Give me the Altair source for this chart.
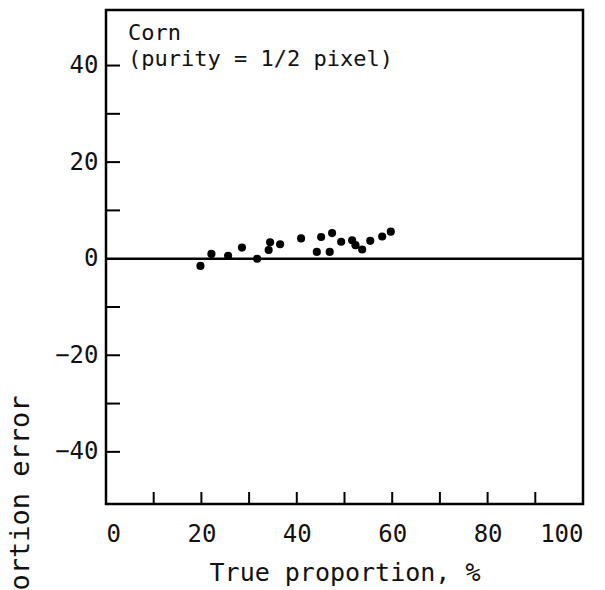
import altair as alt
import pandas as pd

# ---- data ----
true_prop = [19.8, 22.1, 25.6, 28.5, 31.7, 34.1, 34.4, 36.5, 40.9, 44.2,
             45.1, 46.9, 47.4, 49.3, 51.6, 52.3, 53.7, 55.4, 57.9, 59.7]
prop_error = [-1.5, 1.0, 0.6, 2.3, 0.0, 1.8, 3.4, 3.0, 4.2, 1.4,
              4.5, 1.4, 5.3, 3.5, 3.8, 2.8, 1.9, 3.7, 4.6, 5.6]
x_label_values = [0, 20, 40, 60, 80, 100]
y_label_values = [-40, -20, 0, 20, 40]
x_tick_values = [10, 20, 30, 40, 50, 60, 70, 80, 90]
y_tick_values = [-40, -30, -20, -10, 10, 20, 30, 40]
zero_line = [0]
annotation_lines = ["Corn", "(purity = 1/2 pixel)"]
x_title = "True proportion, %"
y_title = "Proportion error"

FONT = "DejaVu Sans Mono"
W, H = 477, 494
X_DOMAIN = [0, 100]
Y_DOMAIN = [-50.8, 51.5]

pts = pd.DataFrame({"x": true_prop, "y": prop_error})
xt = pd.DataFrame({"x": x_tick_values})
yt = pd.DataFrame({"y": y_tick_values})
zl = pd.DataFrame({"y": zero_line})

xscale = alt.Scale(domain=X_DOMAIN, nice=False, zero=False)
yscale = alt.Scale(domain=Y_DOMAIN, nice=False, zero=False)

xaxis = alt.Axis(
    values=x_label_values, title=x_title, ticks=False, domain=False, grid=False,
    labelFont=FONT, labelFontSize=24, labelColor="#111", labelPadding=18,
    labelFlush=True, titleFont=FONT, titleFontSize=25, titleFontWeight="normal",
    titleColor="#111", titlePadding=14)
yaxis = alt.Axis(
    values=y_label_values, title=y_title, ticks=False, domain=False, grid=False,
    labelFont=FONT, labelFontSize=24, labelColor="#111", labelPadding=8,
    labelFlush=False, titleFont=FONT, titleFontSize=27, titleFontWeight="normal",
    titleColor="#111", titleX=-86, titleY=515, titleAngle=270,
    titleAlign="center", titleBaseline="middle")

X = alt.X("x:Q", scale=xscale, axis=xaxis)
Y = alt.Y("y:Q", scale=yscale, axis=yaxis)

points = alt.Chart(pts).mark_circle(size=66, color="black", opacity=1).encode(x=X, y=Y)

zero = alt.Chart(zl).mark_rule(color="black", strokeWidth=2.5).encode(y=Y)

xticks = alt.Chart(xt).mark_rule(color="black", strokeWidth=2).encode(
    x=X, y=alt.value(H), y2=alt.value(H - 12))

yticks = alt.Chart(yt).mark_rule(color="black", strokeWidth=2).encode(
    y=Y, x=alt.value(0), x2=alt.value(14))

note = alt.Chart(pd.DataFrame({"a": [0]})).mark_text(
    align="left", baseline="alphabetic", font=FONT, fontSize=22,
    lineHeight=26, color="#111").encode(
    x=alt.value(22), y=alt.value(30), text=alt.value(annotation_lines))

chart = alt.layer(points, zero, xticks, yticks, note).properties(
    width=W, height=H,
    autosize=alt.AutoSizeParams(type="none"),
    padding={"left": 106, "top": 10, "right": 605 - 106 - W, "bottom": 590 - 10 - H},
).configure(
    background="white",
    view=alt.ViewConfig(stroke="black", strokeWidth=2.5),
)

chart.save("out.html", embed_options={"renderer": "svg", "actions": False})
